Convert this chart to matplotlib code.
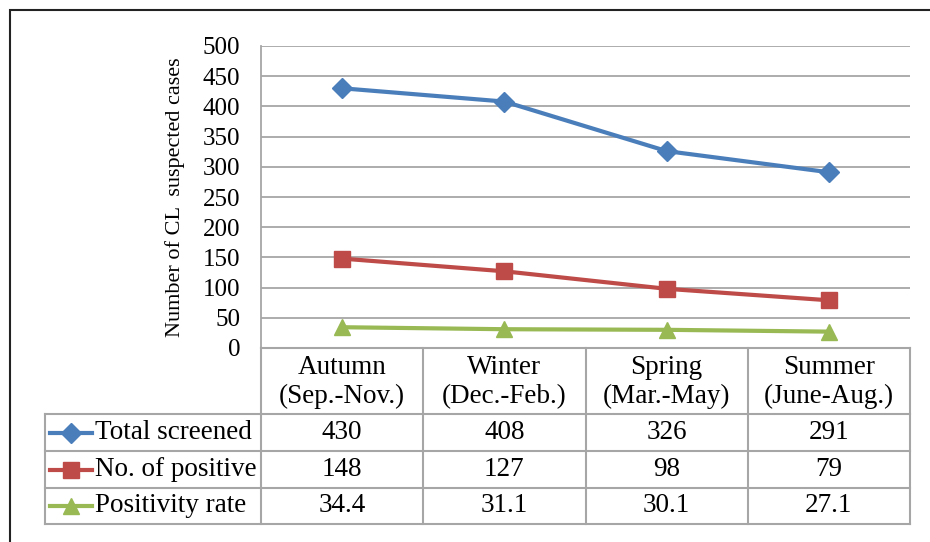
import matplotlib.pyplot as plt
from matplotlib.lines import Line2D

# data
seasons = ["Autumn\n(Sep.-Nov.)", "Winter\n(Dec.-Feb.)", "Spring\n(Mar.-May)", "Summer\n(June-Aug.)"]
series_names = ["Total screened", "No. of positive", "Positivity rate"]
total_screened = [430, 408, 326, 291]
no_positive = [148, 127, 98, 79]
positivity_rate = [34.4, 31.1, 30.1, 27.1]
cell_text = [["430", "408", "326", "291"],
             ["148", "127", "98", "79"],
             ["34.4", "31.1", "30.1", "27.1"]]

colors = ["#4a7ebb", "#be4b48", "#98b954"]
markers = ["D", "s", "^"]
msizes = [10, 11, 12]

plt.rcParams["font.family"] = ["Liberation Serif", "DejaVu Serif"]

W, H = 930, 542
fig = plt.figure(figsize=(W / 100, H / 100), dpi=100)


def fx(x):
    return x / W


def fy(y):
    return 1 - y / H


# outer frame
frame = plt.Rectangle((fx(10), fy(560)), fx(940) - fx(10), fy(10) - fy(560),
                      transform=fig.transFigure, fill=False, ec="#222222", lw=1.5)
fig.patches.append(frame)

left, right, top, bottom = 261, 910, 46, 348
ax = fig.add_axes([fx(left), fy(bottom), fx(right) - fx(left), fy(top) - fy(bottom)])

x = list(range(len(seasons)))
for vals, c, m, ms in zip([total_screened, no_positive, positivity_rate], colors, markers, msizes):
    ax.plot(x, vals, color=c, lw=3, marker=m, ms=ms, mec=c, mfc=c, zorder=3, clip_on=False)

ax.set_xlim(-0.5, len(seasons) - 0.5)
ax.set_ylim(0, 500)
ax.set_yticks(range(0, 501, 50))
ax.yaxis.grid(True, color="#a6a6a6", lw=1.3)
ax.set_axisbelow(True)
for s in ["top", "right", "bottom"]:
    ax.spines[s].set_visible(False)
ax.spines["left"].set_color("#a6a6a6")
ax.spines["left"].set_linewidth(1.3)
ax.tick_params(axis="y", length=0, labelsize=18, pad=15)
ax.tick_params(axis="x", length=0, labelbottom=False)
ax.set_ylabel("Number of CL  suspected cases", fontsize=16, labelpad=13)

# data table below the axes
col_edges = [left + i * (right - left) / 4 for i in range(5)]
row_edges = [414, 451, 488, 524]
tab_left = 45
lc = "#a6a6a6"
lw = 1.5
fs = 19.5


def hline(y, x0, x1):
    fig.add_artist(Line2D([fx(x0), fx(x1)], [fy(y), fy(y)], color=lc, lw=lw, transform=fig.transFigure))


def vline(x, y0, y1):
    fig.add_artist(Line2D([fx(x), fx(x)], [fy(y0), fy(y1)], color=lc, lw=lw, transform=fig.transFigure))


hline(bottom, left, right)
for y in row_edges:
    hline(y, tab_left, right)
for xe in col_edges:
    vline(xe, bottom, row_edges[-1])
vline(tab_left, row_edges[0], row_edges[-1])

for i, s in enumerate(seasons):
    cx = (col_edges[i] + col_edges[i + 1]) / 2
    fig.text(fx(cx), fy((bottom + row_edges[0]) / 2 + 1), s, ha="center", va="center",
             fontsize=fs, linespacing=1.25)

for r, name in enumerate(series_names):
    cy = (row_edges[r] + row_edges[r + 1]) / 2
    fig.add_artist(Line2D([fx(50), fx(92)], [fy(cy), fy(cy)], color=colors[r], lw=3,
                          transform=fig.transFigure))
    fig.add_artist(Line2D([fx(71)], [fy(cy)], color=colors[r], marker=markers[r],
                          ms=msizes[r], lw=0, transform=fig.transFigure))
    fig.text(fx(95), fy(cy), name, ha="left", va="center", fontsize=fs)
    for i, t in enumerate(cell_text[r]):
        cx = (col_edges[i] + col_edges[i + 1]) / 2
        fig.text(fx(cx), fy(cy), t, ha="center", va="center", fontsize=fs)

fig.savefig("out.png", dpi=100)
